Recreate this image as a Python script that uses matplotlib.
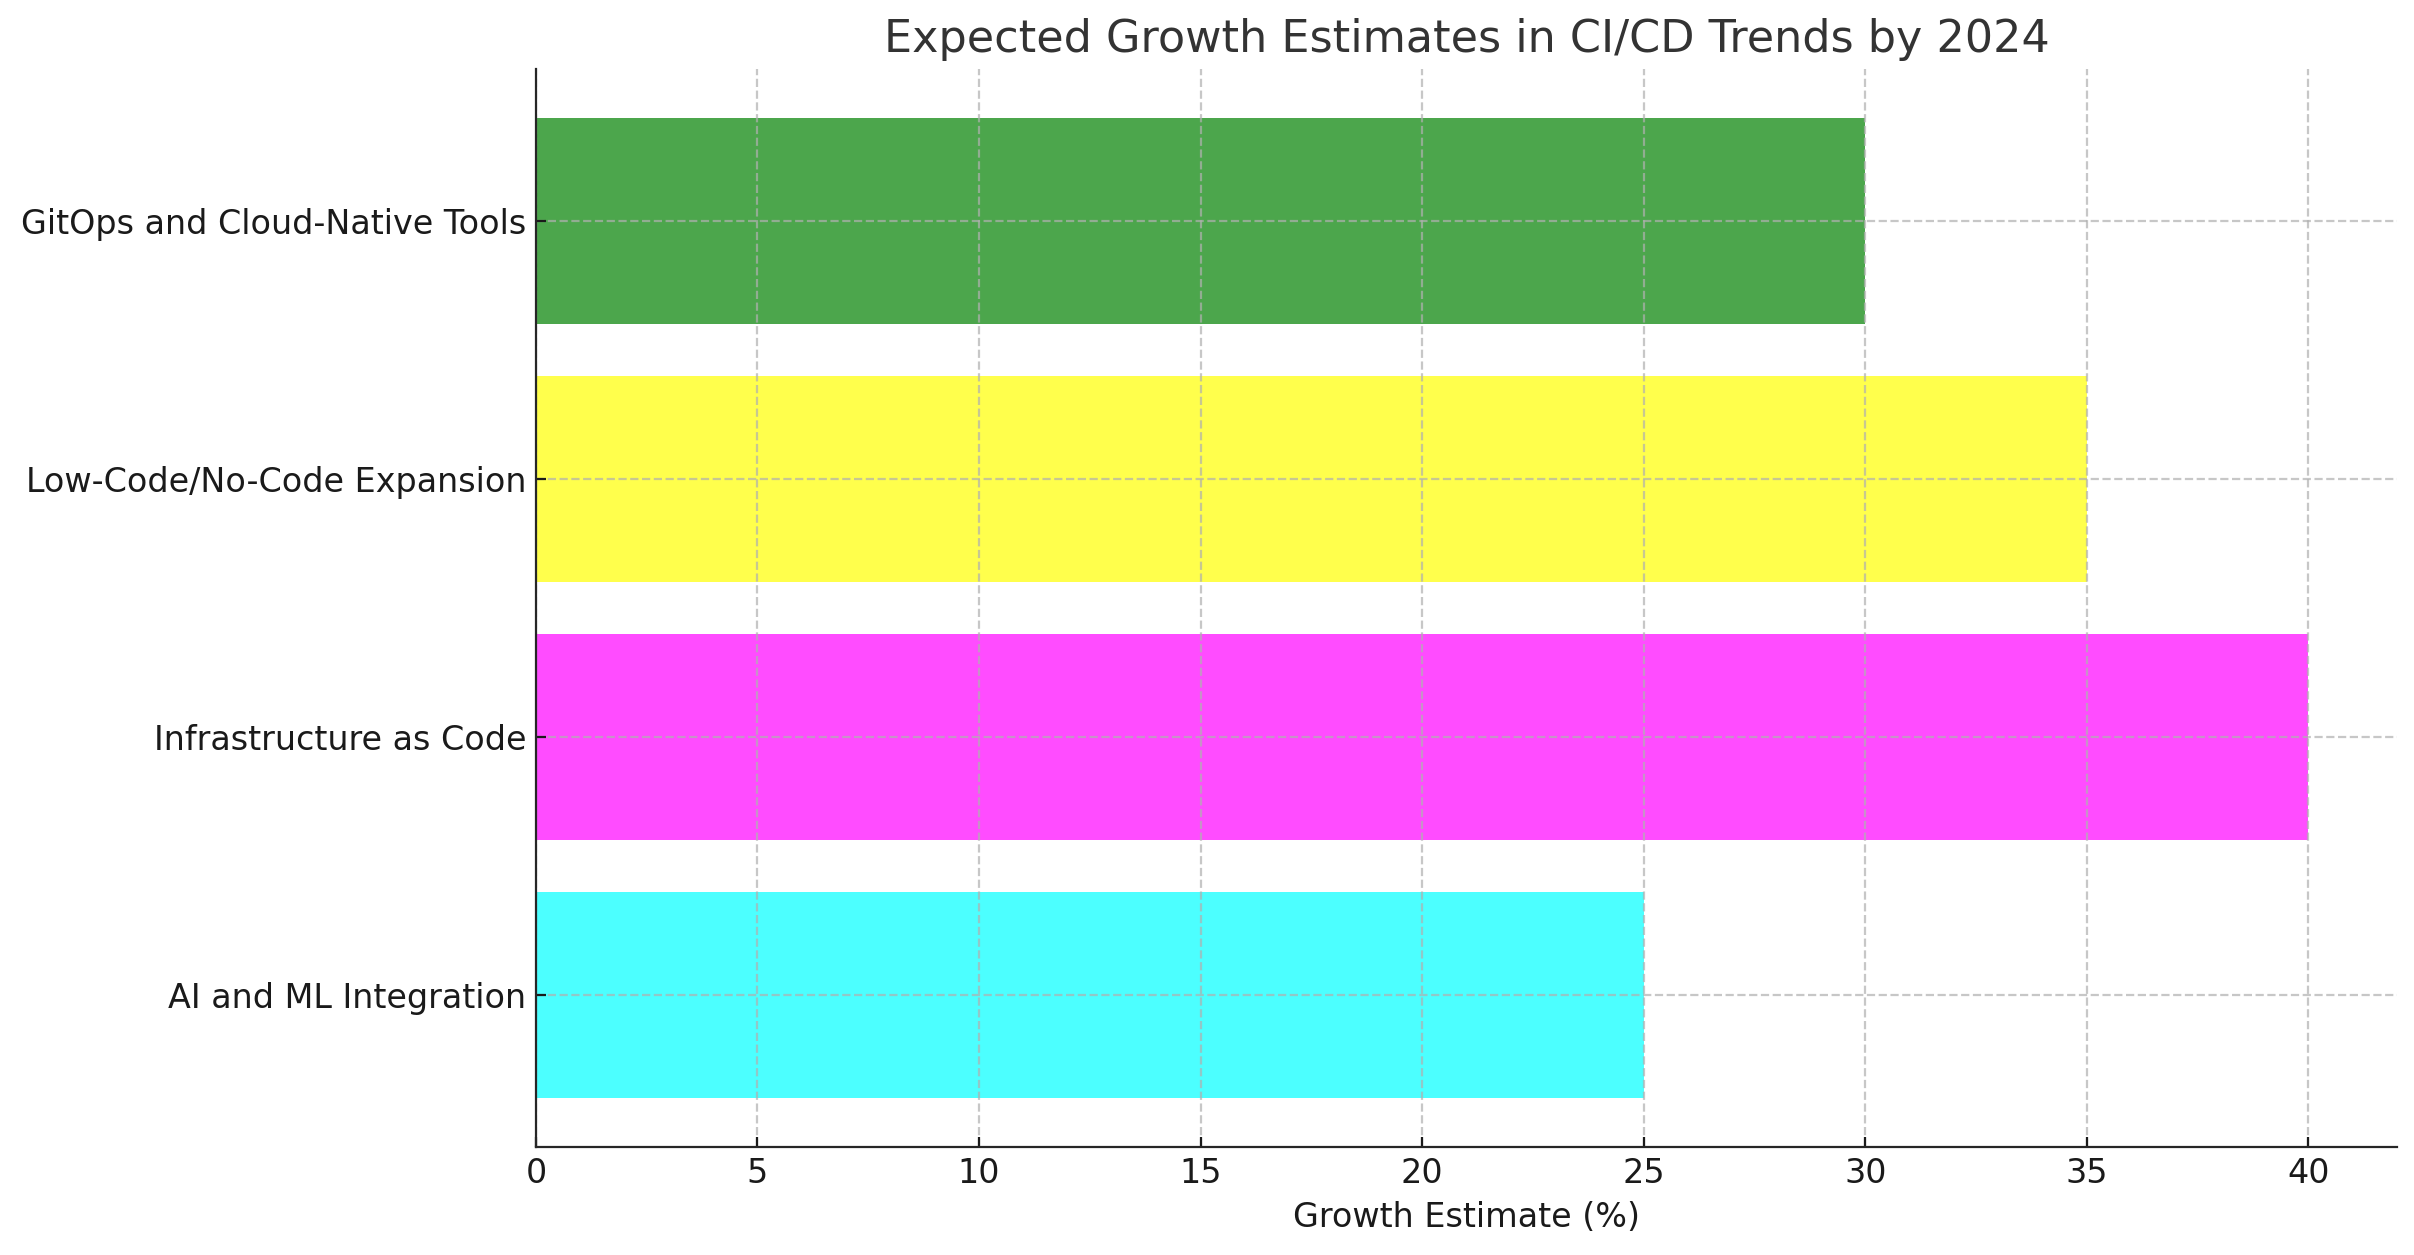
import matplotlib
matplotlib.use("Agg")
import matplotlib.pyplot as plt

# data
trends = ["AI and ML Integration", "Infrastructure as Code",
          "Low-Code/No-Code Expansion", "GitOps and Cloud-Native Tools"]
growth = [25, 40, 35, 30]
bar_colors = ["cyan", "magenta", "yellow", "green"]

fig, ax = plt.subplots(figsize=(12.07, 6.275), dpi=200)

ax.barh(trends, growth, color=bar_colors, alpha=0.7)

ax.set_title("Expected Growth Estimates in CI/CD Trends by 2024",
             fontsize=16, color="#333333")
ax.set_xlabel("Growth Estimate (%)", fontsize=12, color="#1a1a1a")
ax.tick_params(labelsize=12, colors="#1a1a1a", direction="in")

# grid sits above the bars (default axisbelow='line')
ax.grid(True, linestyle="--", color="#b0b0b0", alpha=0.7)
for s in ["top", "right"]:
    ax.spines[s].set_visible(False)
ax.spines["left"].set_color("#262626")
ax.spines["bottom"].set_color("#262626")

plt.subplots_adjust(left=0.222, right=0.993, top=0.945, bottom=0.086)
plt.savefig("out.png", dpi=200)
